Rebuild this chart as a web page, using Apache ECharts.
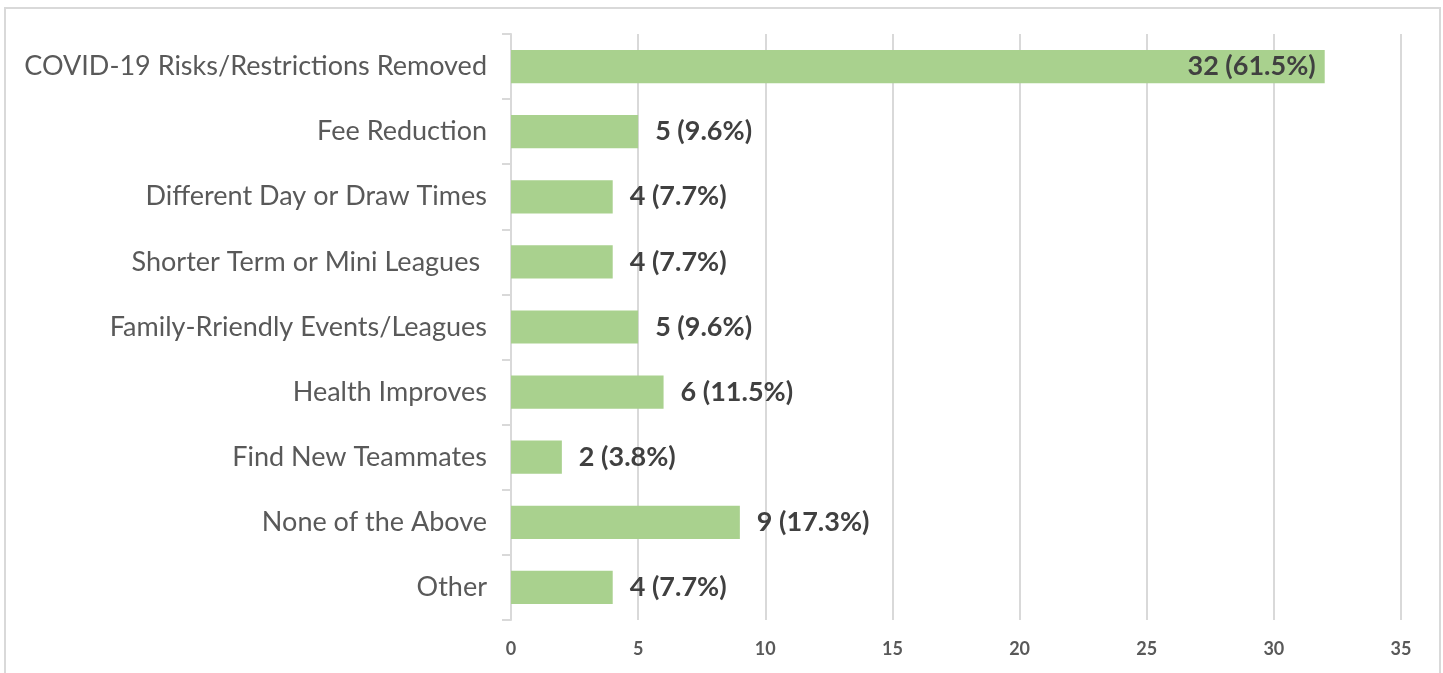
<!DOCTYPE html>
<html>
<head>
<meta charset="utf-8">
<script src="https://cdn.jsdelivr.net/npm/echarts@6/dist/echarts.min.js"></script>
<style>
html,body{margin:0;padding:0;background:#fff;}
#chart{width:1443px;height:673px;}
</style>
</head>
<body>
<div id="chart"></div>
<script>
const categories = [
  "COVID-19 Risks/Restrictions Removed",
  "Fee Reduction",
  "Different Day or Draw Times",
  "Shorter Term or Mini Leagues ",
  "Family-Rriendly Events/Leagues",
  "Health Improves",
  "Find New Teammates",
  "None of the Above",
  "Other"
];
const counts = [32, 5, 4, 4, 5, 6, 2, 9, 4];
const percents = ["61.5%", "9.6%", "7.7%", "7.7%", "9.6%", "11.5%", "3.8%", "17.3%", "7.7%"];
const xTicks = { min: 0, max: 35, interval: 5 };

const chart = echarts.init(document.getElementById('chart'));
const FONT = 'Lato';
chart.setOption({
  animation: false,
  backgroundColor: '#fff',
  graphic: [{
    type: 'rect',
    shape: { x: 5, y: 8, width: 1435, height: 700 },
    style: { fill: 'none', stroke: '#d9d9d9', lineWidth: 2 },
    silent: true
  }],
  grid: { left: 511, right: 42, top: 34, bottom: 53, containLabel: false },
  xAxis: {
    type: 'value',
    min: xTicks.min, max: xTicks.max, interval: xTicks.interval,
    axisLine: { show: false },
    axisTick: { show: false },
    splitLine: { show: true, lineStyle: { color: '#d9d9d9', width: 2 } },
    axisLabel: { color: '#595959', fontFamily: FONT, fontWeight: 'bold', fontSize: 18, margin: 20 }
  },
  yAxis: {
    type: 'category',
    inverse: true,
    data: categories,
    axisLine: { show: true, lineStyle: { color: '#d9d9d9', width: 2 } },
    axisTick: { show: true, length: 9, lineStyle: { color: '#d9d9d9', width: 2 } },
    axisLabel: { color: '#595959', fontFamily: FONT, fontSize: 27, margin: 24 }
  },
  series: [{
    type: 'bar',
    data: counts.map((v, i) => ({
      value: v,
      label: i === 0 ? { position: 'insideRight', distance: 9 } : { position: 'right', distance: 17 }
    })),
    barCategoryGap: '49%',
    itemStyle: { color: '#a9d18e' },
    label: {
      show: true,
      color: '#404040',
      fontFamily: FONT,
      fontWeight: 'bold',
      fontSize: 27,
      formatter: p => counts[p.dataIndex] + ' (' + percents[p.dataIndex] + ')'
    }
  }]
});
</script>
</body>
</html>
